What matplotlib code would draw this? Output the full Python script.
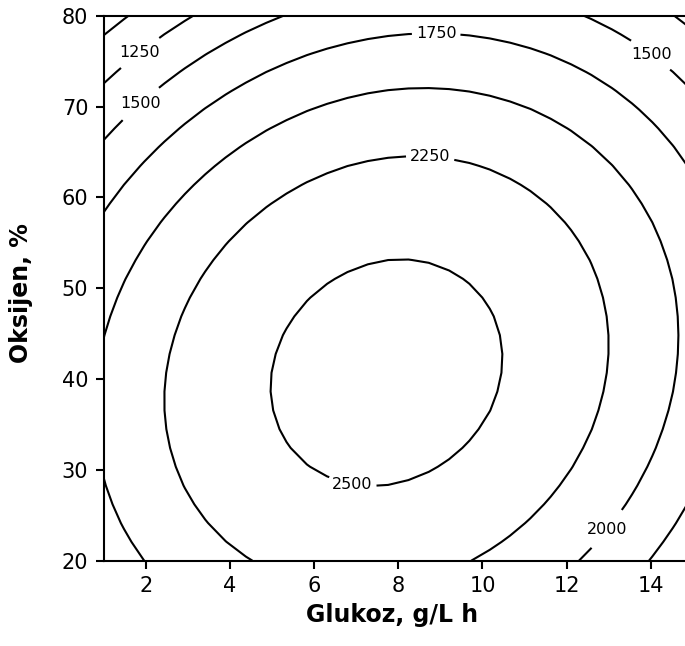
import numpy as np
import matplotlib
matplotlib.use("Agg")
import matplotlib.pyplot as plt

# fitted response-surface model: Y = b0 + b1*X1 + b2*X2 + b11*X1^2 + b22*X2^2 + b12*X1*X2
# X1 = glucose feed (g/L h), X2 = oxygen (%)
coef_names = ["b0", "b1", "b2", "b11", "b22", "b12"]
coef_vals = [1052.0, 164.8, 44.53, -12.56, -0.615, 0.716]
glukoz_range = [1, 15]
oksijen_range = [20, 80]
levels = [1000, 1250, 1500, 1750, 2000, 2250, 2500]
x_ticks = [2, 4, 6, 8, 10, 12, 14]
y_ticks = [20, 30, 40, 50, 60, 70, 80]

b = dict(zip(coef_names, coef_vals))
x = np.linspace(glukoz_range[0], glukoz_range[1], 30)
y = np.linspace(oksijen_range[0], oksijen_range[1], 30)
X, Y = np.meshgrid(x, y)
Z = (b["b0"] + b["b1"] * X + b["b2"] * Y + b["b11"] * X**2
     + b["b22"] * Y**2 + b["b12"] * X * Y)

fig = plt.figure(figsize=(6.85, 6.46), dpi=100)
ax = fig.add_axes([103.6 / 685, (646 - 560.7) / 646, (693 - 103.6) / 685, 545 / 646])

# lowest level is too short for a label, so it gets its own contour set
ax.contour(X, Y, Z, levels=levels[:1], colors="black", linewidths=1.5)
cs = ax.contour(X, Y, Z, levels=levels[1:], colors="black", linewidths=1.5)
label_pos = [(1.9, 75.7), (1.9, 70.2), (8.9, 78.1), (14.0, 75.7),
             (8.75, 64.1), (6.9, 28.1), (12.9, 23.7)]
ax.clabel(cs, fmt="%d", fontsize=11.5, inline=True,
          inline_spacing=4, manual=label_pos)
# keep the level numbers upright
for t in cs.labelTexts:
    t.set_rotation(0)

ax.set_xlim(glukoz_range)
ax.set_ylim(oksijen_range)
ax.set_xticks(x_ticks)
ax.set_yticks(y_ticks)
ax.tick_params(direction="out", length=6, width=1.5, labelsize=15, pad=5)
for s in ax.spines.values():
    s.set_linewidth(1.5)

ax.set_xlabel("Glukoz, g/L h", fontsize=17, fontweight="bold")
ax.set_ylabel("Oksijen, %", fontsize=17, fontweight="bold")
ax.xaxis.set_label_coords(0.489, -0.077)
ax.yaxis.set_label_coords(-0.12, 0.491)

fig.savefig("out.png", dpi=100)
